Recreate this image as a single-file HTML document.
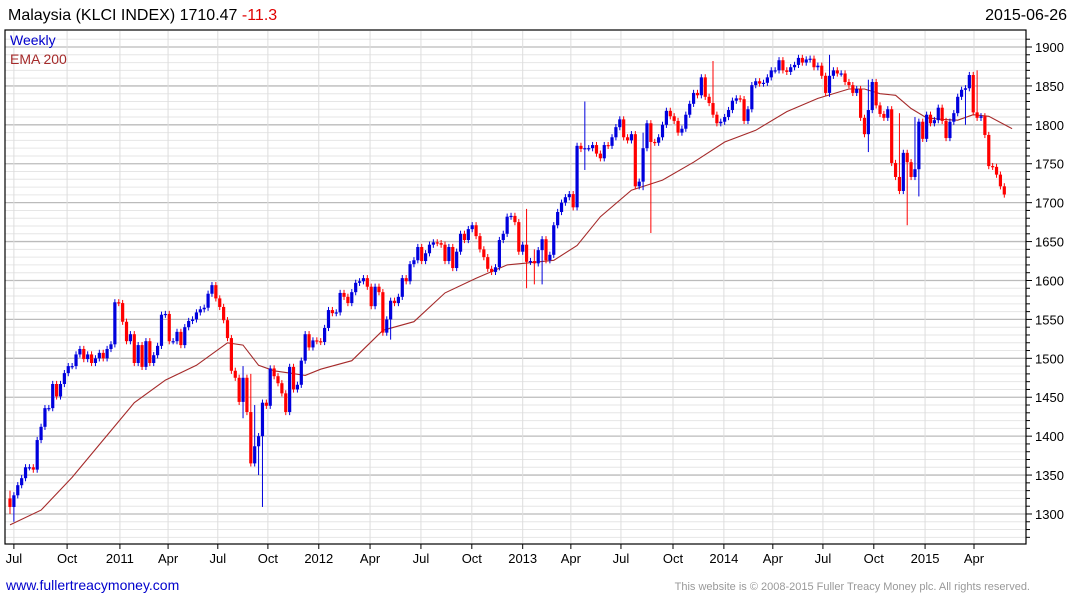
<!DOCTYPE html>
<html><head><meta charset="utf-8"><style>
body{margin:0;background:#fff;width:1075px;height:600px;overflow:hidden;font-family:"Liberation Sans",sans-serif}
svg{display:block}
</style></head><body>
<svg id="c" width="1075" height="600">
<text x="8" y="20" font-size="16" fill="#000">Malaysia (KLCI INDEX) 1710.47 <tspan fill="#e00000">-11.3</tspan></text>
<text x="1067" y="20" font-size="16" text-anchor="end" fill="#000">2015-06-26</text>
<g id="grid"></g>
<g id="ema"></g>
<g id="bars"></g>
<rect x="5" y="30" width="1021" height="514" fill="none" stroke="#000" stroke-width="1.2"/>
<g id="axes"></g>
<text x="10" y="45" font-size="14" fill="#0000cc">Weekly</text>
<text x="10" y="64" font-size="14" fill="#a52a2a">EMA 200</text>
<text x="6" y="590" font-size="14" fill="#0000cc">www.fullertreacymoney.com</text>
<text x="1030" y="590" font-size="11" text-anchor="end" fill="#999">This website is © 2008-2015 Fuller Treacy Money plc. All rights reserved.</text>
</svg>
<script>
const closes=[1309,1324,1337,1346,1360,1360,1357,1395,1412,1436,1436,1467,1451,1467,1481,1490,1490,1505,1512,1499,1505,1494,1500,1507,1500,1512,1518,1572,1571,1547,1522,1531,1494,1517,1489,1522,1494,1504,1516,1556,1557,1522,1522,1534,1517,1540,1548,1550,1559,1563,1565,1583,1594,1577,1566,1549,1526,1484,1475,1444,1475,1431,1365,1387,1400,1443,1439,1487,1477,1468,1455,1431,1489,1460,1466,1497,1531,1514,1523,1522,1521,
1539,1562,1558,1559,1584,1579,1571,1585,1597,1599,1603,1592,1567,1592,1585,1533,1550,1574,1571,1579,1603,1599,1621,1626,1643,1625,1635,1646,1649,1648,1646,1625,1643,1616,1637,1660,1652,1666,1671,1657,1640,1630,1615,1611,1617,1652,1660,1682,1683,1675,1637,1646,1624,1625,1622,1639,1653,1626,1633,1671,1688,1700,1707,1711,1694,
1773,1769,1770,1770,1774,1763,1757,1774,1773,1784,1797,1807,1784,1780,1788,1721,1727,1770,1802,1778,1777,1784,1800,1818,1811,1805,1790,1795,1813,1827,1841,1838,1861,1836,1828,1813,1802,1804,1810,1819,1831,1834,1833,1805,1820,1851,1856,1853,1854,1861,1870,1870,1883,1870,1868,1874,1877,1886,1880,1884,1885,1874,1876,1863,1841,1863,1870,1866,1866,1855,1851,1841,1846,1809,1788,1819,1855,1825,1814,1809,1820,1751,1733,1715,1764,1752,1733,1743,1804,1782,1813,1802,1806,1822,1805,1783,1804,1815,1836,1845,1847,1864,1816,1809,1811,1787,1747,1746,1736,1721,1710.47];
const firstOpen=1320;
const wickIdx=[0,1,60,62,63,64,65,98,133,135,137,148,163,165,181,211,221,229,231,233,234,249,246];
const wickHigh=[1330,1328,1490,1480,1440,1370,1440,1445,1692,1640,1640,1830,1790,1775,1882,1890,1858,1815,1720,1810,1780,1870,1848];
const wickLow=[1300,1290,1423,1440,1420,1350,1309,1524,1590,1595,1595,1742,1716,1661,1826,1836,1765,1745,1671,1740,1708,1840,1800];
const emaIdx=[0,8,16,24,32,40,48,56,60,64,68,72,76,80,88,96,104,112,120,128,132,140,146,152,160,168,176,184,192,200,208,216,220,224,228,232,236,240,244,248,252,258];
const emaVal=[1286,1305,1347,1395,1443,1472,1491,1520,1517,1491,1484,1481,1478,1486,1497,1536,1547,1584,1603,1620,1622,1626,1645,1682,1716,1729,1752,1778,1793,1817,1834,1846,1846,1840,1838,1821,1809,1807,1806,1813,1811,1795];
const yTicks=[1300,1350,1400,1450,1500,1550,1600,1650,1700,1750,1800,1850,1900];
const xLabels=['Jul','Oct','2011','Apr','Jul','Oct','2012','Apr','Jul','Oct','2013','Apr','Jul','Oct','2014','Apr','Jul','Oct','2015','Apr'];
const xLabelIdx=[1,14.7,28.3,40.7,53.5,66.4,79.5,92.7,105.8,118.9,132,144.4,157.3,170.7,183.8,196.4,209.3,222.4,235.6,248.2];

const NS='http://www.w3.org/2000/svg';
const X=i=>10+i*3.884;
const Y=v=>47+(1900-v)*0.7783;
function mk(tag,attrs,parent){const e=document.createElementNS(NS,tag);for(const k in attrs)e.setAttribute(k,attrs[k]);parent.appendChild(e);return e;}
const grid=document.getElementById('grid'),axes=document.getElementById('axes'),bars=document.getElementById('bars'),emaG=document.getElementById('ema');
for(let v=1260;v<=1910;v+=10){const y=Y(v);if(y<31||y>543)continue;
 const major=v%50===0;
 const l=mk('line',{x1:5,x2:1026,y1:y,y2:y,stroke:major?'#bbb':'#e6e6e6','stroke-width':major?1.3:1},grid);
 
 
 const t=mk('line',{x1:1026,x2:major?1032:1030,y1:y,y2:y,stroke:'#000'},axes);
 
 }
yTicks.forEach(v=>{const t=mk('text',{x:1035,y:Y(v)+5,'font-size':13,fill:'#000'},axes);t.textContent=v;
 
 });
xLabels.forEach((s,k)=>{const x=X(xLabelIdx[k]);
 const l=mk('line',{x1:x,x2:x,y1:31,y2:543,stroke:'#ddd'},grid);
 
 
 const tk=mk('line',{x1:x,x2:x,y1:544,y2:549,stroke:'#000'},axes);
 
 
 const t=mk('text',{x:x,y:563,'font-size':13,'text-anchor':'middle',fill:'#000'},axes);t.textContent=s;
 
 });
// EMA
const pts=emaIdx.map((i,k)=>X(i).toFixed(1)+','+Y(emaVal[k]).toFixed(1)).join(' ');
const pl=mk('polyline',{points:pts,fill:'none',stroke:'#a52a2a','stroke-width':1.1},emaG);


// candles
closes.forEach((c,i)=>{const o=i===0?firstOpen:closes[i-1];
 const up=c>=o;const col=up?'#0000dd':'#ff0000';
 let hi=Math.max(o,c)+4,lo=Math.min(o,c)-4;
 const w=wickIdx.indexOf(i);if(w>=0){hi=Math.max(hi,wickHigh[w]);lo=Math.min(lo,wickLow[w]);}
 const x=X(i);
 const wk=mk('line',{x1:x,x2:x,y1:Y(hi),y2:Y(lo),stroke:col,'stroke-width':1},bars);
 
 
 const top=Y(Math.max(o,c)),h=Math.max(1.2,Y(Math.min(o,c))-top);
 const b=mk('rect',{x:x-1.6,y:top,width:3.2,height:h,fill:col},bars);
 
 });
</script>
</body></html>
